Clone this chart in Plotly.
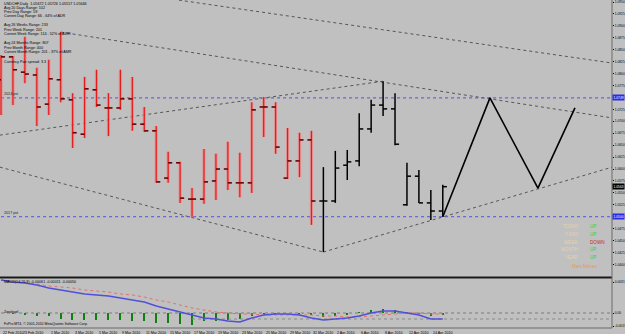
import plotly.graph_objects as go

# ---------------- data ----------------
bar_index = list(range(38))
opens  = [1.0787, 1.0835, 1.0803, 1.0797, 1.0736, 1.0787, 1.0745, 1.0673, 1.0766, 1.0728,
          1.0728, 1.0747, 1.0694, 1.0680, 1.0581, 1.0613, 1.0537, 1.0537, 1.0575, 1.0600,
          1.0571, 1.0571, 1.0730, 1.0730, 1.0581, 1.0617, 1.0661, 1.0533, 1.0533, 1.0608,
          1.0617, 1.0684, 1.0734, 1.0726, 1.0525, 1.0585, 1.0529, 1.0512]
highs  = [1.0839, 1.0837, 1.0877, 1.0812, 1.0829, 1.0887, 1.0759, 1.0793, 1.0808, 1.0759,
          1.0808, 1.0793, 1.0730, 1.0690, 1.0636, 1.0615, 1.0560, 1.0642, 1.0632, 1.0657,
          1.0634, 1.0740, 1.0751, 1.0740, 1.0686, 1.0676, 1.0680, 1.0604, 1.0638, 1.0640,
          1.0717, 1.0745, 1.0784, 1.0759, 1.0613, 1.0598, 1.0556, 1.0567]
lows   = [1.0713, 1.0734, 1.0780, 1.0690, 1.0713, 1.0740, 1.0644, 1.0665, 1.0730, 1.0669,
          1.0724, 1.0680, 1.0678, 1.0571, 1.0571, 1.0529, 1.0500, 1.0527, 1.0535, 1.0556,
          1.0541, 1.0550, 1.0667, 1.0632, 1.0579, 1.0583, 1.0483, 1.0426, 1.0529, 1.0577,
          1.0606, 1.0676, 1.0711, 1.0650, 1.0523, 1.0529, 1.0493, 1.0500]
closes = [1.0835, 1.0808, 1.0799, 1.0730, 1.0789, 1.0747, 1.0676, 1.0768, 1.0734, 1.0728,
          1.0747, 1.0694, 1.0680, 1.0573, 1.0613, 1.0539, 1.0537, 1.0573, 1.0600, 1.0571,
          1.0571, 1.0724, 1.0730, 1.0646, 1.0617, 1.0661, 1.0533, 1.0533, 1.0602, 1.0615,
          1.0684, 1.0734, 1.0726, 1.0652, 1.0585, 1.0529, 1.0512, 1.0563]
red_count = 27  # first bars drawn red, the rest black

macd_main   = [0.0033, 0.0031, 0.0030, 0.0028, 0.0025, 0.0023, 0.0021, 0.0019, 0.0018, 0.0017,
               0.0015, 0.0013, 0.0011, 0.0007, 0.0004, 0.0001, -0.0002, -0.0005, -0.0006, -0.0008,
               -0.0009, -0.0005, -0.0002, -0.0001, -0.0001, -0.0002, -0.0005, -0.0007, -0.0006, -0.0005,
               -0.0003, 0.0000, 0.0002, 0.0002, 0.0000, -0.0002, -0.0006, -0.0006]
macd_signal = [0.0033, 0.0032, 0.0030, 0.0029, 0.0027, 0.0026, 0.0025, 0.0023, 0.0022, 0.0021,
               0.0019, 0.0018, 0.0016, 0.0013, 0.0011, 0.0008, 0.0005, 0.0003, 0.0001, 0.0000,
               -0.0001, -0.0001, -0.0002, -0.0002, -0.0002, -0.0002, -0.0002, -0.0003, -0.0003, -0.0004,
               -0.0004, -0.0003, -0.0002, -0.0001, 0.0000, 0.0000, -0.0001, -0.0001]
macd_hist   = [0.0000, -0.0001, -0.0002, -0.0003, -0.0003, -0.0006, -0.0007, -0.0007, -0.0007, -0.0007,
               -0.0007, -0.0008, -0.0008, -0.0010, -0.0010, -0.0011, -0.0012, -0.0008, -0.0008, -0.0007,
               -0.0006, -0.0003, -0.0001, -0.0001, 0.0000, -0.0001, -0.0002, -0.0004, -0.0003, -0.0002,
               0.0001, 0.0003, 0.0004, 0.0003, 0.0001, -0.0001, -0.0003, -0.0002]

date_labels = ["22 Feb 2010", "23 Feb 2010", "1 Mar 2010", "3 Mar 2010", "5 Mar 2010", "9 Mar 2010",
               "11 Mar 2010", "15 Mar 2010", "17 Mar 2010", "19 Mar 2010", "23 Mar 2010", "25 Mar 2010",
               "29 Mar 2010", "31 Mar 2010", "2 Apr 2010", "6 Apr 2010", "8 Apr 2010", "12 Apr 2010",
               "14 Apr 2010"]
date_label_pos = [0, 1.7, 4, 6, 8, 10, 12, 14, 16, 18, 20, 22, 24, 26, 28, 30, 32, 34, 36]

trend_lines = [
    ([14.9, 51.2], [1.0954, 1.0822]),
    ([5.0, 51.2], [1.0887, 1.0707]),
    ([-0.1, 32.0], [1.0671, 1.0784]),
    ([-0.1, 27.0], [1.0604, 1.0426]),
    ([27.0, 51.2], [1.0426, 1.0604]),
]
zigzag_x = [37, 40.95, 44.97, 48.07]
zigzag_y = [1.0500, 1.0749, 1.0560, 1.0728]

pivot_levels = [1.0749, 1.0500]
pivot_names = ["2024 pvt", "2017 pvt"]

macd_tick_vals = [0.0031, 0.0, -0.0013]
macd_tick_text = ["0.0031", "0.00", "-0.0013"]

info_lines = [
    "USDCHF,Daily  1.05672 1.05726 1.05557 1.05646",
    "Avg 20 Days Range: 102",
    "Prev Day Range: 59",
    "Current Day Range: 66 - 64% of ADR",
    "Avg 26 Weeks Range: 233",
    "Prev Week Range: 201",
    "Current Week Range: 114 - 52% of AWR",
    "Avg 24 Months Range: 807",
    "Prev Month Range: 400",
    "Current Month Range: 201 - 37% of AMR",
    "Currency Pair spread: 3.3",
]
info_rows_px = [4, 8, 12, 16, 25, 29.5, 34, 43.5, 48, 52.5, 62]

status_names = ["TODAY", "Y-DAY", "WEEK", "MONTH", "YEAR"]
status_values = ["UP", "UP", "DOWN", "UP", "UP"]

# ---------------- layout constants ----------------
W, H = 625, 334
ML, MR, MT, MB = 0, 13, 0, 6
PW, PH = W - ML - MR, H - MT - MB
BG = "#c0c0c0"
FONT = "Liberation Sans, Arial, sans-serif"
AXFONT = 3.3

def py(p):  # pixel row -> paper y
    return 1 - p / PH

def px(p):
    return p / PW

main_bottom_px = 277
macd_top_px = 279

fig = go.Figure()

# trend lines
for xs, ys in trend_lines:
    fig.add_trace(go.Scatter(x=xs, y=ys, mode="lines", line=dict(color="#4a4a4a", width=0.9, dash="dot"),
                             hoverinfo="skip", showlegend=False))

# pivot lines
for lvl in pivot_levels:
    fig.add_trace(go.Scatter(x=[-1, 52], y=[lvl, lvl], mode="lines",
                             line=dict(color="#5050dc", width=1, dash="dot"),
                             hoverinfo="skip", showlegend=False))

def bar_segments(idx):
    vx, vy, tx, ty = [], [], [], []
    for i in idx:
        vx += [i, i, None]
        vy += [lows[i], highs[i], None]
        tx += [i - 0.34, i, None, i, i + 0.34, None]
        ty += [opens[i], opens[i], None, closes[i], closes[i], None]
    return vx, vy, tx, ty

red_idx = bar_index[:red_count]
blk_idx = bar_index[red_count:]
vx, vy, tx, ty = bar_segments(red_idx)
fig.add_trace(go.Scatter(x=vx, y=vy, mode="lines", line=dict(color="rgba(240,130,130,0.75)", width=3.2),
                         hoverinfo="skip", showlegend=False))
fig.add_trace(go.Scatter(x=vx, y=vy, mode="lines", line=dict(color="#e41c1c", width=1.2),
                         hoverinfo="skip", showlegend=False))
fig.add_trace(go.Scatter(x=tx, y=ty, mode="lines", line=dict(color="#6a0000", width=1.6),
                         hoverinfo="skip", showlegend=False))
vx, vy, tx, ty = bar_segments(blk_idx)
fig.add_trace(go.Scatter(x=vx, y=vy, mode="lines", line=dict(color="#000000", width=1.5),
                         hoverinfo="skip", showlegend=False))
fig.add_trace(go.Scatter(x=tx, y=ty, mode="lines", line=dict(color="#000000", width=1.5),
                         hoverinfo="skip", showlegend=False))

# zigzag projection
fig.add_trace(go.Scatter(x=zigzag_x, y=zigzag_y, mode="lines", line=dict(color="#000000", width=1.6),
                         hoverinfo="skip", showlegend=False))

# MACD panel
fig.add_trace(go.Scatter(x=[-1, 52], y=[0, 0], xaxis="x2", yaxis="y2", mode="lines",
                         line=dict(color="#7a7a7a", width=1, dash="dot"), hoverinfo="skip", showlegend=False))
fig.add_trace(go.Scatter(x=[16, 52], y=[-0.0006, -0.0006], xaxis="x2", yaxis="y2", mode="lines",
                         line=dict(color="#8a8a8a", width=1, dash="dot"), hoverinfo="skip", showlegend=False))
fig.add_trace(go.Bar(x=bar_index, y=macd_hist, xaxis="x2", yaxis="y2", width=0.11,
                     marker=dict(color="#0f7f0f", line=dict(width=0)), hoverinfo="skip", showlegend=False))
fig.add_trace(go.Scatter(x=bar_index, y=macd_signal, xaxis="x2", yaxis="y2", mode="lines",
                         line=dict(color="#e07070", width=1, dash="dot"), hoverinfo="skip", showlegend=False))
fig.add_trace(go.Scatter(x=bar_index, y=macd_main, xaxis="x2", yaxis="y2", mode="lines",
                         line=dict(color="#5050d8", width=1.4), hoverinfo="skip", showlegend=False))

x_range = [-0.084, -0.084 + PW / 11.94]
p_top = 1.09542
p_per_px = 0.00020956
y_range = [p_top - main_bottom_px * p_per_px, p_top]
boxed = pivot_levels + [closes[-1]]
price_ticks = [round(1.0400 + 0.0025 * k, 4) for k in range(23)]
price_ticks = [v for v in price_ticks if all(abs(v - b) > 0.0009 for b in boxed)]

fig.update_layout(
    width=W, height=H,
    margin=dict(l=ML, r=MR, t=MT, b=MB, autoexpand=False),
    paper_bgcolor=BG, plot_bgcolor=BG,
    font=dict(family=FONT, color="#000000", size=4),
    showlegend=False,
    bargap=0,
    xaxis=dict(domain=[0, 1], range=x_range, showgrid=False, zeroline=False, showticklabels=False,
               ticks="", fixedrange=True, automargin=False),
    yaxis=dict(domain=[py(main_bottom_px), 1], range=y_range, side="right", showgrid=False, zeroline=False,
               tickvals=price_ticks, ticktext=[f"{v:.4f}" for v in price_ticks],
               ticks="outside", ticklen=1, tickcolor="#000000", ticklabelstandoff=0,
               tickfont=dict(size=AXFONT, family=FONT),
               fixedrange=True, automargin=False),
    xaxis2=dict(domain=[0, 1], anchor="y2", range=x_range, showgrid=False, zeroline=False,
                showticklabels=False, ticks="", fixedrange=True, automargin=False),
    yaxis2=dict(domain=[0, py(macd_top_px)], range=[-0.0015, 0.0034], side="right", showgrid=False,
                zeroline=False, tickvals=macd_tick_vals, ticktext=macd_tick_text,
                ticks="outside", ticklen=1, tickcolor="#000000", ticklabelstandoff=0,
                tickfont=dict(size=AXFONT, family=FONT),
                fixedrange=True, automargin=False),
)

shapes = [
    dict(type="line", xref="paper", yref="paper", x0=0, x1=1, y0=py(277.5), y1=py(277.5),
         line=dict(color="#1a1a1a", width=2)),
    dict(type="line", xref="paper", yref="paper", x0=1, x1=1, y0=0, y1=1,
         line=dict(color="#6a6a6a", width=1)),
    dict(type="line", xref="paper", yref="paper", x0=0, x1=1, y0=0, y1=0,
         line=dict(color="#6a6a6a", width=1)),
]
fig.update_layout(shapes=shapes)

ann = []
for text, row in zip(info_lines, info_rows_px):
    ann.append(dict(xref="paper", yref="paper", x=px(2), y=py(row), text=text, showarrow=False,
                    xanchor="left", yanchor="middle", font=dict(size=3.7, color="#000000", family=FONT)))
for lvl, name in zip(pivot_levels, pivot_names):
    ann.append(dict(xref="paper", yref="y", x=px(2), y=lvl, text=name, showarrow=False,
                    xanchor="left", yanchor="bottom", font=dict(size=3.7, color="#202020", family=FONT)))
    ann.append(dict(xref="paper", yref="y", x=1, y=lvl, text=f"{lvl:.4f}", showarrow=False,
                    xanchor="left", yanchor="middle", bgcolor="#2b2be6", borderpad=0.5,
                    font=dict(size=AXFONT, color="#ffffff", family=FONT)))
ann.append(dict(xref="paper", yref="y", x=1, y=closes[-1], text=f"{closes[-1]:.4f}", showarrow=False,
                xanchor="left", yanchor="middle", bgcolor="#000000", borderpad=0.5,
                font=dict(size=AXFONT, color="#ffffff", family=FONT)))
for k, (nm, st) in enumerate(zip(status_names, status_values)):
    row = 227 + k * 7.5
    ann.append(dict(xref="paper", yref="paper", x=px(580), y=py(row), text=nm, showarrow=False,
                    xanchor="right", yanchor="middle", font=dict(size=4.6, color="#e6d2ae", family=FONT)))
    ann.append(dict(xref="paper", yref="paper", x=px(588), y=py(row), text=st, showarrow=False,
                    xanchor="left", yanchor="middle",
                    font=dict(size=4.6, color="#c42a2a" if st == "DOWN" else "#3ccf3c", family=FONT)))
ann.append(dict(xref="paper", yref="paper", x=px(584), y=py(266), text="Main Moves", showarrow=False,
                xanchor="center", yanchor="middle", font=dict(size=4.6, color="#e89a48", family=FONT)))
ann.append(dict(xref="paper", yref="paper", x=px(2), y=py(281.5), text="MACD(14,26,9) -0.00061 -0.00011 -0.00050",
                showarrow=False, xanchor="left", yanchor="middle", font=dict(size=3.7, color="#000000", family=FONT)))
ann.append(dict(xref="paper", yref="paper", x=px(2), y=py(311.5), text="Zerolevel",
                showarrow=False, xanchor="left", yanchor="middle", font=dict(size=3.5, color="#000000", family=FONT)))
ann.append(dict(xref="paper", yref="paper", x=px(2), y=py(323.5),
                text="FxPro MT4, \u00a9 2001-2010 MetaQuotes Software Corp.",
                showarrow=False, xanchor="left", yanchor="middle", font=dict(size=3.5, color="#000000", family=FONT)))
for pos, lab in zip(date_label_pos, date_labels):
    ann.append(dict(xref="x", yref="paper", x=pos, y=0, yshift=-0.5, text=lab, showarrow=False,
                    xanchor="left", yanchor="top", font=dict(size=3.6, color="#000000", family=FONT)))
fig.update_layout(annotations=ann)

fig.write_html("out.html")
